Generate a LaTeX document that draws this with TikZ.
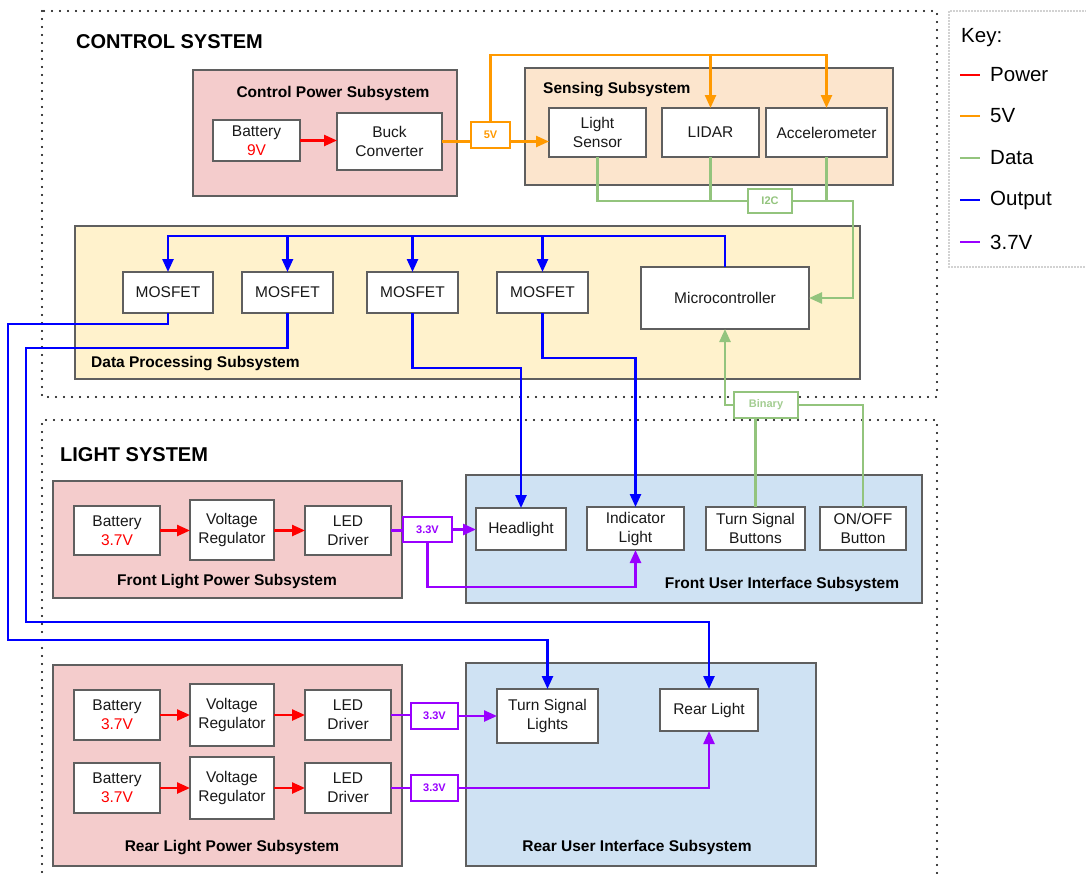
\documentclass[tikz,border=0pt]{standalone}
\usepackage{fontspec}
\setmainfont{Liberation Sans}
\usetikzlibrary{arrows.meta,calc}
\definecolor{cred}{HTML}{FF0000}
\definecolor{corange}{HTML}{FF9900}
\definecolor{cgreen}{HTML}{93C47D}
\definecolor{cblue}{HTML}{0000FF}
\definecolor{cpurple}{HTML}{9900FF}
\definecolor{fpink}{HTML}{F4CCCC}
\definecolor{fpeach}{HTML}{FCE5CD}
\definecolor{fyellow}{HTML}{FFF2CC}
\definecolor{fblue}{HTML}{CFE2F3}
\definecolor{bordergray}{HTML}{5F5F5F}
\newcommand\rbox[7]{\node[#2, minimum width={(#5-#3)*1pt}, minimum height={(#6-#4)*1pt}] (#1) at ({(#3+#5)/2},{(#4+#6)/2}) {#7};}
\tikzset{
  sub/.style={draw=bordergray, line width=1.3pt, inner sep=0pt, outer sep=0pt},
  comp/.style={draw=bordergray, fill=white, line width=1.3pt, inner sep=0pt, outer sep=0pt, align=center, text=black!90, font=\fontsize{15.5}{19}\selectfont},
  lbl/.style={fill=white, line width=1.3pt, inner sep=0pt, outer sep=0pt, font=\bfseries\fontsize{11}{13}\selectfont},
  ttl/.style={font=\bfseries\fontsize{15.5}{18}\selectfont, inner sep=0pt},
  big/.style={font=\bfseries\fontsize{20}{24}\selectfont, inner sep=0pt, anchor=west},
  keytxt/.style={font=\fontsize{20.5}{24}\selectfont, inner sep=0pt, anchor=west},
  tip/.style={-{Triangle[length=13pt,width=11pt]}},
  pw/.style={draw=cred, line width=2.4pt},
  c5/.style={draw=corange, line width=2.4pt},
  cd/.style={draw=cgreen, line width=2.4pt},
  co/.style={draw=cblue, line width=2.4pt},
  c37/.style={draw=cpurple, line width=2.4pt},
  sysdots/.style={draw=black, line width=2.3pt, dash pattern=on 0pt off 8pt, line cap=round},
  keydots/.style={draw=black!75, line width=1.2pt, dash pattern=on 0pt off 3pt, line cap=round},
}
\begin{document}
\begin{tikzpicture}[x=1pt,y={(0pt,-1pt)}]
\fill[white] (0,0) rectangle (1086,873);
\useasboundingbox (0,0) rectangle (1086,873);
% system frames
\draw[sysdots] (42,11) rectangle (937,397);
\draw[sysdots] (42,880) -- (42,420) -- (937,420) -- (937,880);
\draw[keydots] (1095,11) -- (949,11) -- (949,267) -- (1095,267);
\node[big] (ctl) at (76,42) {CONTROL SYSTEM};
\node[big] (lgt) at (60,455) {LIGHT SYSTEM};
% key
\node[keytxt] (keyt) at (961,38) {Key:};
\draw[pw] (960,75) -- (980,75);   \node[keytxt] (k1) at (990,75) {Power};
\draw[c5] (960,116) -- (980,116); \node[keytxt] (k2) at (990,116) {5V};
\draw[cd] (960,158) -- (980,158); \node[keytxt] (k3) at (990,158) {Data};
\draw[co] (960,200) -- (980,200); \node[keytxt] (k4) at (990,200) {Output};
\draw[c37] (960,242) -- (980,242); \node[keytxt] (k5) at (990,242) {3.7V};
% subsystems
\rbox{cps}{sub,fill=fpink}{193}{70}{457}{196}{}
\rbox{sens}{sub,fill=fpeach}{525}{68}{893}{185}{}
\rbox{dps}{sub,fill=fyellow}{75}{226}{860}{379}{}
\rbox{flps}{sub,fill=fpink}{53}{481}{402}{598}{}
\rbox{fui}{sub,fill=fblue}{466}{475}{922}{603}{}
\rbox{rlps}{sub,fill=fpink}{53}{665}{402}{866}{}
\rbox{rui}{sub,fill=fblue}{466}{663}{816}{866}{}
\node[ttl] (tcps) at (333,93) {Control Power Subsystem};
\node[ttl,anchor=west] (tsens) at (543,90) {Sensing Subsystem};
\node[ttl,anchor=west] (tdps) at (91,364) {Data Processing Subsystem};
\node[ttl] (tflps) at (227,582) {Front Light Power Subsystem};
\node[ttl] (tfui) at (782,584) {Front User Interface Subsystem};
\node[ttl] (trlps) at (232,848) {Rear Light Power Subsystem};
\node[ttl] (trui) at (637,847) {Rear User Interface Subsystem};
% components: control
\rbox{bat}{comp}{213}{120}{300}{161}{Battery\\\textcolor{cred}{9V}}
\rbox{buck}{comp}{337}{113}{442}{170}{Buck\\Converter}
\rbox{v5}{lbl,draw=corange,text=corange}{471}{122}{510}{148}{5V}
\rbox{ls}{comp}{549}{108}{646}{157}{Light\\Sensor}
\rbox{lidar}{comp}{662}{108}{759}{157}{LIDAR}
\rbox{accel}{comp}{766}{108}{887}{157}{Accelerometer}
\rbox{i2c}{lbl,draw=cgreen,text=cgreen}{748}{189}{792}{213}{I2C}
\rbox{mos1}{comp}{123}{272}{213}{313}{MOSFET}
\rbox{mos2}{comp}{242}{272}{333}{313}{MOSFET}
\rbox{mos3}{comp}{367}{272}{458}{313}{MOSFET}
\rbox{mos4}{comp}{497}{272}{588}{313}{MOSFET}
\rbox{mcu}{comp}{641}{267}{809}{329}{Microcontroller}
\rbox{bin}{lbl,draw=cgreen,text=cgreen!85!white}{734}{392}{798}{418}{Binary}
% components: light
\rbox{fbat}{comp}{74}{506}{160}{555}{Battery\\\textcolor{cred}{3.7V}}
\rbox{fvr}{comp}{190}{500}{274}{560}{Voltage\\Regulator}
\rbox{fled}{comp}{305}{506}{391}{555}{LED\\Driver}
\rbox{v33a}{lbl,draw=cpurple,text=cpurple}{403}{517}{452}{542}{3.3V}
\rbox{hl}{comp}{476}{508}{566}{550}{Headlight}
\rbox{ind}{comp}{587}{507}{684}{550}{Indicator\\Light}
\rbox{tsb}{comp}{706}{507}{805}{550}{Turn Signal\\Buttons}
\rbox{onoff}{comp}{820}{507}{906}{550}{ON/OFF\\Button}
\rbox{rbat1}{comp}{74}{690}{160}{740}{Battery\\\textcolor{cred}{3.7V}}
\rbox{rvr1}{comp}{190}{684}{274}{746}{Voltage\\Regulator}
\rbox{rled1}{comp}{305}{690}{391}{740}{LED\\Driver}
\rbox{rbat2}{comp}{74}{763}{160}{813}{Battery\\\textcolor{cred}{3.7V}}
\rbox{rvr2}{comp}{190}{757}{274}{819}{Voltage\\Regulator}
\rbox{rled2}{comp}{305}{763}{391}{813}{LED\\Driver}
\rbox{v33b}{lbl,draw=cpurple,text=cpurple}{411}{703}{458}{729}{3.3V}
\rbox{v33c}{lbl,draw=cpurple,text=cpurple}{411}{775}{458}{801}{3.3V}
\rbox{tsl}{comp}{497}{689}{598}{743}{Turn Signal\\Lights}
\rbox{rl}{comp}{660}{689}{758}{731}{Rear Light}
% power
\draw[pw,tip] (bat.east) -- (bat.east -| buck.west);
\draw[pw,tip] (fbat.east) -- (fbat.east -| fvr.west);
\draw[pw,tip] (fvr.east |- fled.west) -- (fled.west);
\draw[pw,tip] (rbat1.east) -- (rbat1.east -| rvr1.west);
\draw[pw,tip] (rvr1.east |- rled1.west) -- (rled1.west);
\draw[pw,tip] (rbat2.east) -- (rbat2.east -| rvr2.west);
\draw[pw,tip] (rvr2.east |- rled2.west) -- (rled2.west);
% 5V
\coordinate (o5) at (0,55);
\draw[c5] (buck.east) -- (buck.east -| v5.west);
\draw[c5,tip] (buck.east -| v5.east) -- (buck.east -| ls.west);
\draw[c5,tip] (v5.north) -- (v5.north |- o5) -| (accel.north);
\draw[c5,tip] (lidar.north |- o5) -- (lidar.north);
% data
\coordinate (g1) at (853,0);
\draw[cd] (ls.south) |- (i2c.west);
\draw[cd] (lidar.south) -- (lidar.south |- i2c.west);
\draw[cd] (accel.south) -- (accel.south |- i2c.west);
\draw[cd,tip] (i2c.east) -- (i2c.east -| g1) |- (mcu.east);
\draw[cd,tip] (bin.west) -| (mcu.south);
\draw[cd] (bin.south -| tsb.north) -- (tsb.north);
\draw[cd] (bin.east) -| (onoff.north);
% output
\coordinate (bus) at (0,236);
\draw[co,tip] (mcu.north) -- (mcu.north |- bus) -| (mos1.north);
\draw[co,tip] (mos2.north |- bus) -- (mos2.north);
\draw[co,tip] (mos3.north |- bus) -- (mos3.north);
\draw[co,tip] (mos4.north |- bus) -- (mos4.north);
\coordinate (b1a) at (8,324); \coordinate (b1b) at (8,640);
\draw[co,tip] (mos1.south) |- (b1a) -- (b1b) -| (tsl.north);
\coordinate (b2a) at (26,348); \coordinate (b2b) at (26,622);
\draw[co,tip] (mos2.south) |- (b2a) -- (b2b) -| (rl.north);
\coordinate (b3) at (0,368);
\draw[co,tip] (mos3.south) -- (mos3.south |- b3) -| (hl.north);
\coordinate (b4) at (0,358);
\draw[co,tip] (mos4.south) -- (mos4.south |- b4) -| (ind.north);
% 3.3V
\draw[c37] (fled.east) -- (fled.east -| v33a.west);
\draw[c37,tip] (v33a.east) -- (v33a.east -| hl.west);
\coordinate (p1) at (0,587);
\draw[c37,tip] (v33a.south) -- (v33a.south |- p1) -| (ind.south);
\draw[c37] (rled1.east) -- (rled1.east -| v33b.west);
\draw[c37,tip] (v33b.east) -- (v33b.east -| tsl.west);
\draw[c37] (rled2.east) -- (rled2.east -| v33c.west);
\draw[c37,tip] (v33c.east) -| (rl.south);
\end{tikzpicture}
\end{document}
